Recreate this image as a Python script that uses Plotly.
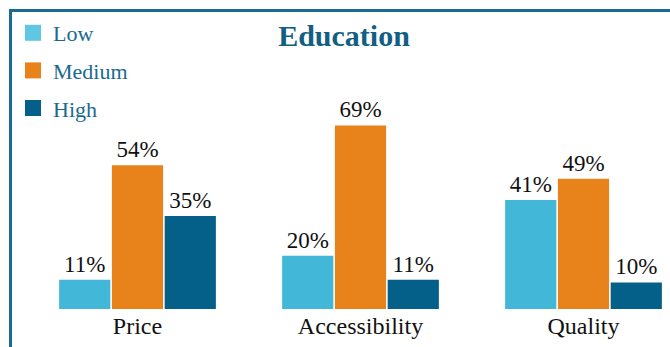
import plotly.graph_objects as go

categories = ["Price", "Accessibility", "Quality"]
series_names = ["Low", "Medium", "High"]
low = [11, 20, 41]
medium = [54, 69, 49]
high = [35, 11, 10]
colors = ["#42b7d7", "#e8821a", "#046089"]
legend_colors = ["#5ec8e2", "#e8821a", "#046089"]

FONT = "Liberation Serif"
fig = go.Figure()
for name, vals, c in zip(series_names, [low, medium, high], colors):
    fig.add_trace(go.Bar(
        x=categories, y=vals, name=name, marker_color=c, marker_line_width=0,
        texttemplate="%{y}%", textposition="outside", cliponaxis=False,
        constraintext="none",
        textfont=dict(family=FONT, size=23, color="#111111"),
        showlegend=False,
    ))
for i, (name, c) in enumerate(zip(series_names, legend_colors)):
    fig.add_trace(go.Scatter(
        x=[None], y=[None], mode="markers", name=name, legendgroup=name,
        marker=dict(symbol="square", size=16, color=c),
    ))

L, R, T, B = 26, 0, 109, 38
W, H = 670, 347
pw = W - L - R
ph = H - T - B
cat_px = 223.0
px_per_pct = 2.66

fig.update_layout(
    width=W, height=H,
    margin=dict(l=L, r=R, t=T, b=B, pad=0),
    paper_bgcolor="white", plot_bgcolor="white",
    barmode="group", bargap=0.29, bargroupgap=0.03,
    title=dict(text="<b>Education</b>", x=344 / W, xref="container", xanchor="center",
               y=1 - 35 / H, yanchor="middle",
               font=dict(family=FONT, size=30, color="#135f84")),
    legend=dict(x=(13 - L) / pw, xanchor="left", y=1 + (T - 12) / ph, yanchor="top",
                font=dict(family=FONT, size=22, color="#1a6a90"),
                tracegroupgap=6, bgcolor="rgba(0,0,0,0)"),
    xaxis=dict(range=[-0.5, -0.5 + pw / cat_px], showline=False, showgrid=False,
               zeroline=False, ticks="", tickfont=dict(family=FONT, size=24, color="#111111")),
    yaxis=dict(range=[0, ph / px_per_pct], visible=False, showgrid=False, zeroline=False),
    showlegend=True,
)
fig.add_shape(type="rect", xref="paper", yref="paper",
              x0=(10.5 - L) / pw, x1=1.2, y0=-0.5, y1=(H - B - 10.5) / ph,
              line=dict(color="#1a6a92", width=3), fillcolor="rgba(0,0,0,0)", layer="above")
fig.write_html("out.html")
